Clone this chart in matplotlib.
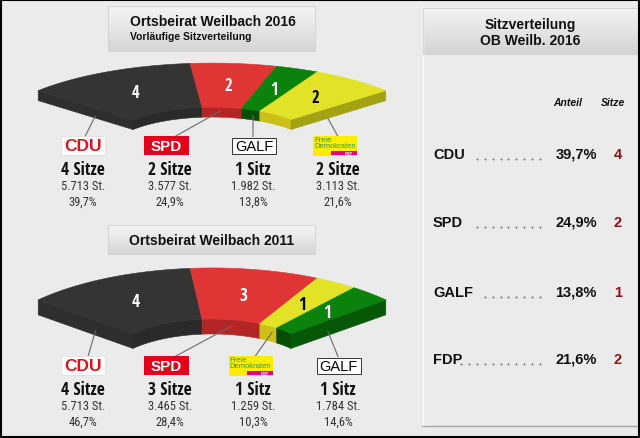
import numpy as np
import matplotlib.pyplot as plt
from matplotlib import font_manager
from matplotlib.font_manager import FontProperties
from matplotlib.patches import Rectangle, Polygon

SANS = 'Liberation Sans'


def _weight(f):
    w = f.weight
    if isinstance(w, str):
        w = {"bold": 700, "heavy": 800, "black": 900, "semibold": 600, "demibold": 600,
             "medium": 500, "light": 300}.get(w.lower(), 400)
    return w


def narrow_font(bold):
    # look for an installed narrow / condensed sans face, else fall back to Liberation Sans
    prefs = ["liberation sans narrow", "arial narrow", "noto sans", "open sans", "roboto",
             "dejavu sans", "lato"]
    best, best_score = None, -1
    for f in font_manager.fontManager.ttflist:
        n = f.name.lower()
        p = f.fname.lower()
        key = n + " " + p
        if "mono" in key or "serif" in key.replace("sans-serif", "") and "sans" not in n:
            continue
        if "italic" in key or "oblique" in key or f.style != "normal":
            continue
        if not ("narrow" in key or "condensed" in key):
            continue
        if "extracondensed" in key.replace(" ", "").replace("-", "") or "ultra" in key:
            continue
        is_bold = _weight(f) >= 600 and "semibold" not in key.replace(" ", "")
        if is_bold != bold:
            continue
        if bold and ("extrabold" in key.replace(" ", "") or "black" in key):
            continue
        if (not bold) and any(w in key for w in ("light", "thin", "medium")):
            continue
        score = 1
        for i, pr in enumerate(prefs):
            if n.startswith(pr):
                score = 100 - i * 5
                break
        if "semicondensed" in key.replace(" ", "").replace("-", ""):
            score -= 3
        if score > best_score:
            best, best_score = f, score
    if best is None:
        return FontProperties(family=SANS, weight="bold" if bold else "normal"), False
    return FontProperties(fname=best.fname), True


NARROW_B, HAVE_NB = narrow_font(True)
NARROW_R, HAVE_NR = narrow_font(False)

# --- data -----------------------------------------------------------------
parties_2016 = ["CDU", "SPD", "GALF", "FDP"]
seats_2016 = [4, 2, 1, 2]
votes_2016 = [5713, 3577, 1982, 3113]
share_2016 = [39.7, 24.9, 13.8, 21.6]

parties_2011 = ["CDU", "SPD", "FDP", "GALF"]
seats_2011 = [4, 3, 1, 1]
votes_2011 = [5713, 3465, 1259, 1784]
share_2011 = [46.7, 28.4, 10.3, 14.6]

# top, inner wall, end face
COLORS = {
    "CDU": ("#343434", "#2a2a2a", "#2e2e2e"),
    "SPD": ("#e03535", "#b42626", "#a82222"),
    "GALF": ("#0b820b", "#064e06", "#065806"),
    "FDP": ("#e2e227", "#cbbf18", "#a2a213"),
}
NUM_COLOR = {"CDU": "white", "SPD": "white", "GALF": "white", "FDP": "black"}

BG = "#ebebeb"
R_OUT, R_IN = 231, 105
A_END = 41.2
SPAN = 180 - 2 * A_END

fig = plt.figure(figsize=(6.4, 4.39), dpi=100)
fig.patch.set_facecolor(BG)
ax = fig.add_axes([0, 0, 1, 1])
ax.set_xlim(0, 640)
ax.set_ylim(439, 0)
ax.axis("off")


def nb(size):
    fp = NARROW_B.copy()
    fp.set_size(size if HAVE_NB else size * 0.85)
    return fp


def nr(size):
    fp = NARROW_R.copy()
    fp.set_size(size if HAVE_NR else size * 0.9)
    return fp


def fmt_votes(v):
    return f"{v:,}".replace(",", ".") + " St."


def fmt_pct(s):
    return f"{s:.1f}".replace(".", ",") + "%"


def pt(g, rho, th, dy=0):
    t = np.radians(th)
    return g["cx"] + rho * np.cos(t), g["cy"] - g["k"] * rho * np.sin(t) + dy


def grad_box(x0, y0, x1, y1, c_top, c_bot):
    a = np.array(plt.matplotlib.colors.to_rgb(c_top))
    b = np.array(plt.matplotlib.colors.to_rgb(c_bot))
    t = np.linspace(0, 1, 64)[:, None]
    img = (a * (1 - t) + b * t)[:, None, :]
    ax.imshow(img, extent=[x0, x1, y1, y0], aspect="auto", zorder=1, interpolation="bilinear")
    ax.add_patch(Rectangle((x0, y0), x1 - x0, y1 - y0, fill=False, ec="#cfcfcf", lw=0.6, zorder=2))


def draw_arc(g, parties, seats):
    total = sum(seats)
    bounds = (180 - A_END) - SPAN * np.cumsum([0] + seats) / total
    h = g["h"]
    for i, p in enumerate(parties):
        top, wall, end = COLORS[p]
        th = np.linspace(bounds[i], bounds[i + 1], 80)
        xi, yi = pt(g, R_IN, th)
        xo, yo = pt(g, R_OUT, th)
        ax.add_patch(Polygon(np.column_stack([np.r_[xi, xi[::-1]], np.r_[yi, yi[::-1] + h]]),
                             closed=True, fc=wall, ec=wall, lw=0.4, zorder=3))
        ax.add_patch(Polygon(np.column_stack([np.r_[xo, xi[::-1]], np.r_[yo, yi[::-1]]]),
                             closed=True, fc=top, ec=top, lw=0.4, zorder=4))
        mx, my = pt(g, (R_OUT + R_IN) / 2, (bounds[i] + bounds[i + 1]) / 2)
        ax.text(mx, my, str(seats[i]), color=NUM_COLOR[p], fontproperties=nb(g["fs"]),
                ha="center", va="center", zorder=6)
    # end faces
    for th, p in ((bounds[0], parties[0]), (bounds[-1], parties[-1])):
        ox, oy = pt(g, R_OUT, th)
        ix, iy = pt(g, R_IN, th)
        c = COLORS[p][2]
        ax.add_patch(Polygon([(ox, oy), (ix, iy), (ix, iy + h), (ox, oy + h)],
                             closed=True, fc=c, ec=c, lw=0.4, zorder=3))


def draw_logo(p, xc, yc):
    if p == "CDU":
        ax.add_patch(Rectangle((xc - 22, yc - 9.5), 44, 19, fc="white", ec="#dcdcdc", lw=0.5, zorder=5))
        ax.text(xc, yc + 0.5, "CDU", color="#d8141e", fontsize=12.5, fontweight="heavy", family=SANS,
                ha="center", va="center", zorder=6)
    elif p == "SPD":
        ax.add_patch(Rectangle((xc - 22.5, yc - 9.5), 45, 19, fc="#e2001a", ec="none", zorder=5))
        ax.text(xc, yc + 0.5, "SPD", color="white", fontsize=11, fontweight="bold", family=SANS,
                ha="center", va="center", zorder=6)
    elif p == "GALF":
        ax.add_patch(Rectangle((xc - 22, yc - 8), 44, 16, fc="white", ec="#333333", lw=0.7, zorder=5))
        ax.text(xc, yc + 0.5, "GALF", color="black", fontsize=10.5, family=SANS,
                ha="center", va="center", zorder=6)
    else:
        ax.add_patch(Rectangle((xc - 22, yc - 10), 44, 20, fc="#ffed00", ec="none", zorder=5))
        ax.text(xc - 21, yc - 5.5, "Freie", color="#2f9a55", fontsize=5.5, family=SANS,
                ha="left", va="center", zorder=6)
        ax.text(xc - 21, yc + 0.5, "Demokraten", color="#2f9a55", fontsize=5.5, family=SANS,
                ha="left", va="center", zorder=6)
        ax.add_patch(Rectangle((xc - 4, yc + 5), 26, 4.5, fc="#e5007d", ec="none", zorder=6))
        ax.text(xc + 14, yc + 7.3, "FDP", color="white", fontsize=3, fontweight="bold", family=SANS,
                ha="center", va="center", zorder=7)


def draw_chart(g, parties, seats, votes, share):
    draw_arc(g, parties, seats)
    for i, p in enumerate(parties):
        th, rho, dy = g["lead"][i]
        sx, sy = pt(g, rho, th, dy)
        ax.plot([sx, g["lead_x"][i]], [sy, g["logo_y"] - 9], color="#6a6a6a", lw=0.8, zorder=5)
        draw_logo(p, g["logo_x"][i], g["logo_y"])
        x = g["col_x"][i]
        label = f"{seats[i]} Sitz" + ("e" if seats[i] != 1 else "")
        ax.text(x, g["text_y"], label, fontproperties=nb(12.5),
                ha="center", va="center", color="#111111")
        ax.text(x, g["text_y"] + 17, fmt_votes(votes[i]), fontproperties=nr(9),
                ha="center", va="center", color="#333333")
        ax.text(x, g["text_y"] + 32, fmt_pct(share[i]), fontproperties=nr(9),
                ha="center", va="center", color="#333333")


g2016 = dict(cx=212, cy=144.7, k=0.349, h=10, fs=12,
             lead=[(138.8, 155, 8), (85.6, 105, 4), (67, 105, 6), (41.2, 154, 10)],
             lead_x=[85, 175, 253, 338], logo_x=[83, 166.5, 254, 335], logo_y=146.5,
             col_x=[83, 170, 253, 338], text_y=170)
g2011 = dict(cx=212, cy=362.5, k=0.405, h=15, fs=12.5,
             lead=[(138.8, 155, 11), (79, 105, 6), (55.2, 105, 6), (41.2, 154, 11)],
             lead_x=[88, 175, 255, 338], logo_x=[83, 166.5, 250.5, 338.5], logo_y=366.5,
             col_x=[83, 170, 253, 338], text_y=390)

# title boxes
grad_box(108, 7, 315, 52, "#f5f5f5", "#d6d6d6")
ax.text(130, 22, "Ortsbeirat Weilbach 2016", fontsize=10, fontweight="bold", family=SANS,
        ha="left", va="center", color="#111111", zorder=3)
ax.text(130, 37.5, "Vorläufige Sitzverteilung", fontsize=7.5, fontweight="bold", family=SANS,
        ha="left", va="center", color="#111111", zorder=3)
grad_box(108, 226, 315, 255, "#f5f5f5", "#d6d6d6")
ax.text(211.5, 241, "Ortsbeirat Weilbach 2011", fontsize=10, fontweight="bold", family=SANS,
        ha="center", va="center", color="#111111", zorder=3)

draw_chart(g2016, parties_2016, seats_2016, votes_2016, share_2016)
draw_chart(g2011, parties_2011, seats_2011, votes_2011, share_2011)

# right panel
ax.plot([422.5, 422.5], [8, 428], color="#fbfbfb", lw=1, zorder=2)
ax.plot([422, 638], [427.5, 427.5], color="#a6a6a6", lw=1, zorder=2)
grad_box(423, 9, 638, 55, "#f3f3f3", "#d4d4d4")
ax.text(530, 24.5, "Sitzverteilung", fontsize=10, fontweight="bold", family=SANS,
        ha="center", va="center", color="#111111", zorder=3)
ax.text(530, 41, "OB Weilb. 2016", fontsize=10, fontweight="bold", family=SANS,
        ha="center", va="center", color="#111111", zorder=3)
ax.text(568, 103, "Anteil", fontsize=7.5, fontweight="bold", style="italic", family=SANS,
        ha="center", va="center", color="#111111")
ax.text(613, 103, "Sitze", fontsize=7.5, fontweight="bold", style="italic", family=SANS,
        ha="center", va="center", color="#111111")

row_y = [155, 223, 293, 360]
n_dots = [9, 9, 8, 11]
for i, p in enumerate(parties_2016):
    y = row_y[i]
    ax.text(433, y, p, fontsize=10.5, fontweight="bold", family=SANS, ha="left", va="center",
            color="#111111")
    xs = 540 - 7.9 * np.arange(n_dots[i])
    ax.scatter(xs, np.full(n_dots[i], y + 4.5), s=2.2, c="#7a7a7a", linewidths=0)
    ax.text(597, y, fmt_pct(share_2016[i]), fontsize=10.5, fontweight="bold", family=SANS,
            ha="right", va="center", color="#111111")
    ax.text(618, y, str(seats_2016[i]), fontsize=10.5, fontweight="bold", family=SANS,
            ha="center", va="center", color="#8b1414")

# outer frame
ax.add_patch(Rectangle((0.7, 0.7), 638.6, 437.6, fill=False, ec="black", lw=1.5, zorder=10))

ax.set_xlim(0, 640)
ax.set_ylim(439, 0)
fig.savefig("out.png", dpi=100, facecolor=BG)
